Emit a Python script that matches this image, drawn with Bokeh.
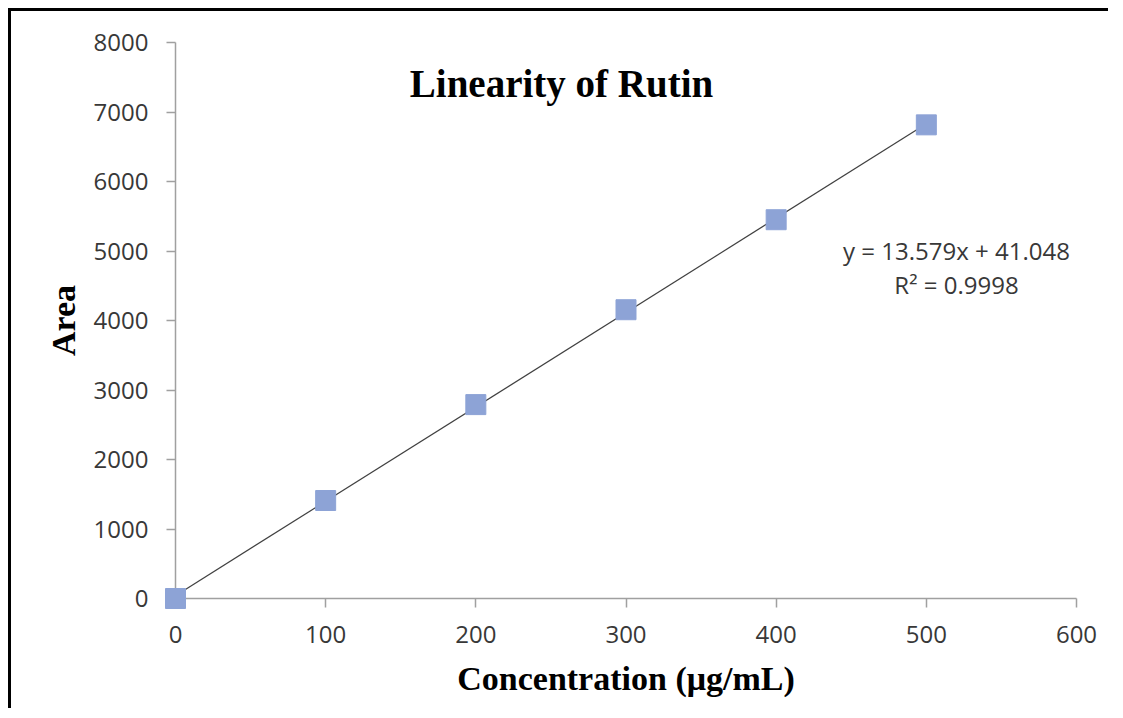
from bokeh.plotting import figure
from bokeh.models import Range1d, FixedTicker, Label, ColumnDataSource
from bokeh.embed import file_html
from bokeh.resources import INLINE

# data
concentration = [0, 100, 200, 300, 400, 500]
area = [0, 1410, 2790, 4155, 5450, 6815]
slope = 13.579
intercept = 41.048
r_squared = 0.9998
x_ticks = [0, 100, 200, 300, 400, 500, 600]
y_ticks = [0, 1000, 2000, 3000, 4000, 5000, 6000, 7000, 8000]

W, H = 1100, 700
p = figure(width=W, height=H, output_backend="svg", toolbar_location=None,
           x_range=Range1d(0, 600), y_range=Range1d(0, 8000),
           min_border_left=164, min_border_right=W - 164 - 901,
           min_border_top=31, min_border_bottom=H - 31 - 556)
p.styles = {"border-top": "3px solid black", "border-left": "3px solid black",
            "margin-top": "8px", "margin-left": "8px"}
p.outline_line_color = None
p.xgrid.grid_line_color = None
p.ygrid.grid_line_color = None
p.background_fill_color = "white"
p.border_fill_color = "white"

axis_col = "#a0a0a0"
for ax in (p.xaxis[0], p.yaxis[0]):
    ax.axis_line_color = axis_col
    ax.axis_line_width = 1.5
    ax.major_tick_line_color = axis_col
    ax.major_tick_line_width = 1.5
    ax.major_tick_out = 9
    ax.major_tick_in = 0
    ax.minor_tick_line_color = None
    ax.major_label_text_font = "Open Sans"
    ax.major_label_text_font_size = "24px"
    ax.major_label_text_color = "#383838"
    ax.major_label_standoff = 18
    ax.axis_label_text_font = "Liberation Serif"
    ax.axis_label_text_font_style = "bold"
    ax.axis_label_text_font_size = "34px"
    ax.axis_label_text_color = "black"

p.xaxis.ticker = FixedTicker(ticks=x_ticks)
p.yaxis.ticker = FixedTicker(ticks=y_ticks)
p.xaxis.axis_label = "Concentration (μg/mL)"
p.yaxis.axis_label = "Area"
p.xaxis.axis_label_standoff = 14
p.yaxis.axis_label_standoff = 9

# trendline
xs = [min(concentration), max(concentration)]
ys = [slope * x + intercept for x in xs]
p.line(xs, ys, line_color="#404040", line_width=1.2)

src = ColumnDataSource(dict(x=concentration, y=area))
p.scatter("x", "y", source=src, marker="square", size=20,
          fill_color="#8da3d6", line_color="#8da3d6", level="overlay")

# screen units here are relative to the plot frame (bottom-left origin)
p.add_layout(Label(x=386, y=515, x_units="screen", y_units="screen",
                   text="Linearity of Rutin", text_font="Liberation Serif",
                   text_font_style="bold", text_font_size="39px",
                   text_align="center", text_baseline="middle", text_color="black"))

p.add_layout(Label(x=781, y=348, x_units="screen", y_units="screen",
                   text=f"y = {slope}x + {intercept}", text_font="Open Sans",
                   text_font_size="24px", text_align="center", text_baseline="middle",
                   text_color="#383838"))
p.add_layout(Label(x=781, y=314, x_units="screen", y_units="screen",
                   text=f"R² = {r_squared}", text_font="Open Sans",
                   text_font_size="24px", text_align="center", text_baseline="middle",
                   text_color="#383838"))

open("out.html", "w").write(file_html(p, INLINE))
